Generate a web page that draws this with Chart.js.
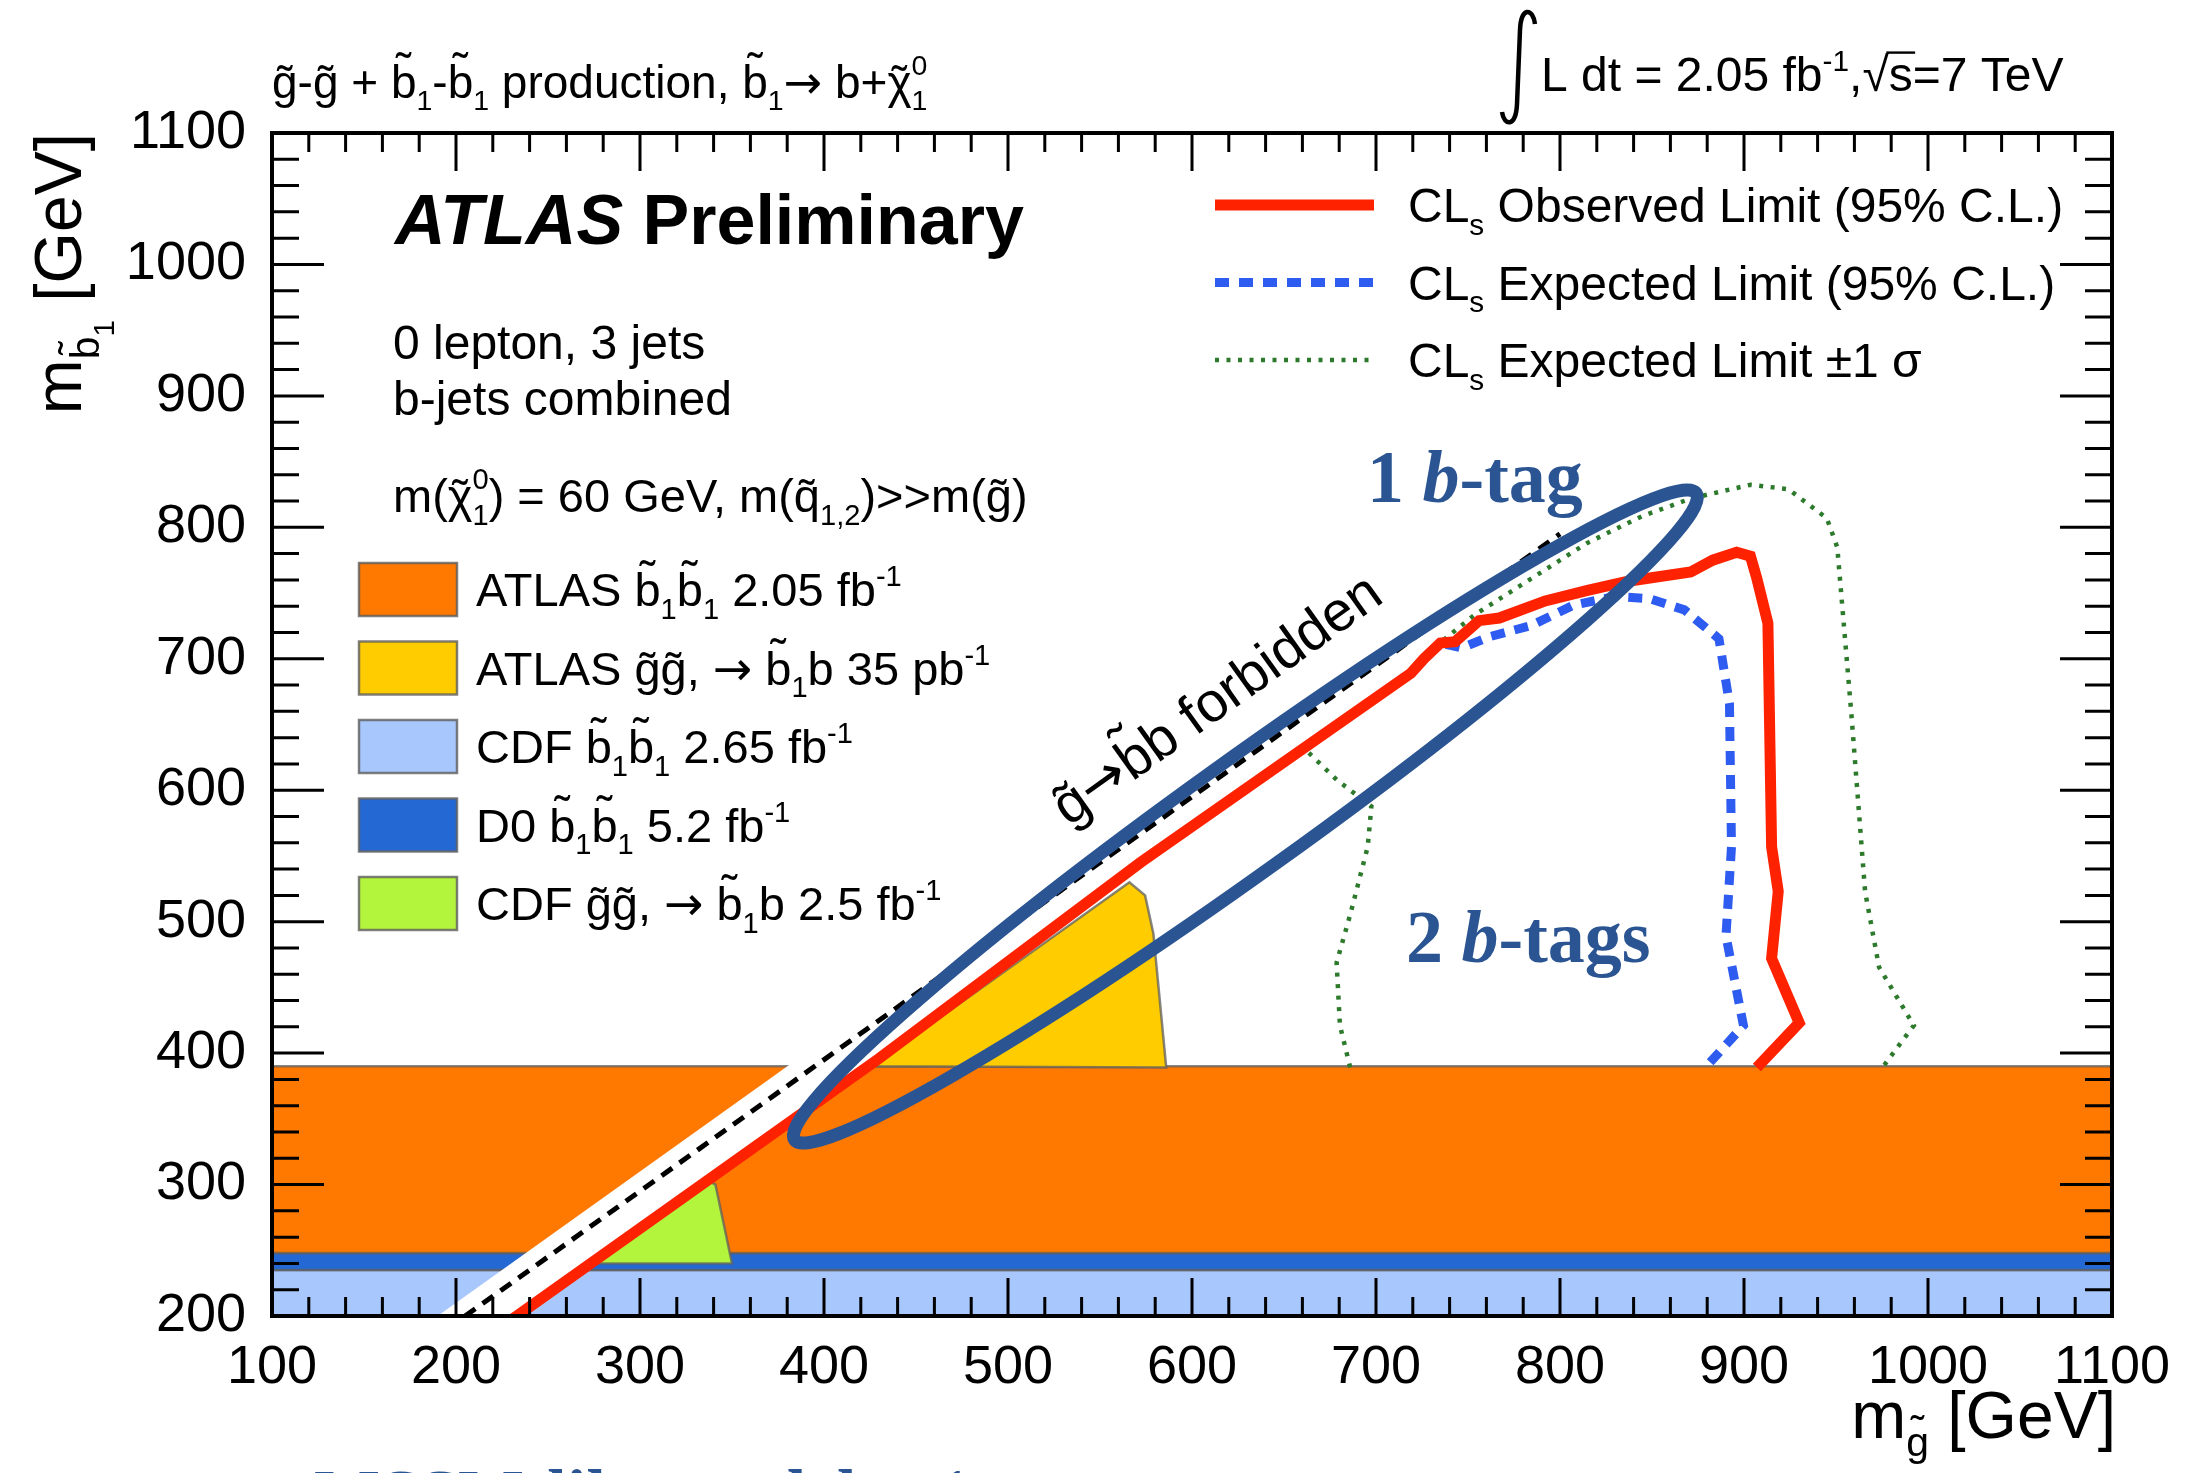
<!DOCTYPE html>
<html>
<head>
<meta charset="utf-8">
<script src="https://cdn.jsdelivr.net/npm/chart.js@4.4.1/dist/chart.umd.min.js"></script>
<style>
  html, body { margin: 0; padding: 0; background: #fff; }
  #wrap { width: 2190px; height: 1473px; }
</style>
</head>
<body>
<div id="wrap"><canvas id="myChart" width="2190" height="1473"></canvas></div>
<script>
// tick labels
const xTicks = [100, 200, 300, 400, 500, 600, 700, 800, 900, 1000, 1100];
const yTicks = [200, 300, 400, 500, 600, 700, 800, 900, 1000, 1100];

// previous limits: horizontal bands in m(sbottom) [GeV]
const cdfSbBand = [190, 235];
const d0SbBand = [235, 248];
const atlasSbBand = [248, 390];

// ATLAS gluino pair 35 pb-1
const atlasGgX = [426, 566, 574.5, 579, 586, 426];
const atlasGgY = [390, 530, 520, 491, 389, 390];

// CDF gluino pair 2.5 fb-1
const cdfGgX = [276, 337, 341, 350, 276];
const cdfGgY = [240, 303, 300, 240, 240];

// white strip along the kinematic edge
const stripX = [175, 382, 425, 218];
const stripY = [185, 392, 392, 185];

// g -> sbottom b kinematic limit
const kinX = [195, 800];
const kinY = [190, 795];

// CLs observed limit
const obsX = [226, 430, 572, 719, 726, 735, 743, 756, 767, 792, 815, 837, 871, 883, 896, 903.5, 907, 913, 915, 918.6, 915, 930, 907];
const obsY = [193, 396, 545, 689, 700, 712, 713, 729, 731, 744, 752, 759, 766, 775, 781, 778, 761, 727, 557, 523, 472, 423, 389];

// CLs expected limit
const expX = [719, 726, 735, 746.6, 761.7, 784.4, 807, 829.7, 848.7, 867.6, 886.4, 892.1, 893.2, 890.2, 899.7, 879];
const expY = [689, 701, 712, 708.3, 716.8, 725.3, 740.6, 747.4, 745.7, 737.2, 715.2, 665.8, 557, 489, 421, 389];

// expected +-1 sigma
const sigOuterX = [719, 724, 754, 784.4, 814.6, 844.8, 871.3, 903.5, 924.2, 945, 950.7, 958.3, 965.8, 973.4, 992.3, 975.2];
const sigOuterY = [690, 700, 733.8, 761, 788, 808.6, 822, 832.4, 829, 806.9, 784.8, 659, 523, 465.4, 421, 389];
const sigInnerX = [663.5, 678.6, 697.5, 695.5, 686.1, 678.6, 680.4, 686];
const sigInnerY = [628.4, 608, 587.7, 557, 506, 468.8, 421, 389];

// highlighted "1 b-tag" region (ends of the ellipse)
const ellipseTips = [[384, 334], [874, 826]];

const SANS = '"Liberation Sans", Arial, Helvetica, sans-serif';
const ARROW = '"DejaVu Sans", sans-serif';
const SERIF = '"Liberation Serif", "Times New Roman", serif';
const ANNOT = '#2b5592';

const orange = '#ff7800', yellow = '#ffcc00', lightBlue = '#a8c7fc', darkBlue = '#2468d4', lime = '#b3f53d';

const pts = (xs, ys) => xs.map((x, i) => ({x: x, y: ys[i]}));

const polygons = [
  {xs: [100, 1100, 1100, 100], ys: [cdfSbBand[0], cdfSbBand[0], cdfSbBand[1], cdfSbBand[1]], color: lightBlue, edge: true},
  {xs: [100, 1100, 1100, 100], ys: [d0SbBand[0], d0SbBand[0], d0SbBand[1], d0SbBand[1]], color: darkBlue, edge: true},
  {xs: [100, 1100, 1100, 100], ys: [atlasSbBand[0], atlasSbBand[0], atlasSbBand[1], atlasSbBand[1]], color: orange, edge: true},
  {xs: cdfGgX, ys: cdfGgY, color: lime, edge: true},
  {xs: atlasGgX, ys: atlasGgY, color: yellow, edge: true},
  {xs: stripX, ys: stripY, color: '#ffffff', edge: false}
];

function tilde(ctx, cx, y, font) {
  ctx.save();
  ctx.font = font;
  ctx.textAlign = 'center';
  ctx.fillText('\u02DC', cx, y);
  ctx.restore();
}

// small rich text: [text], [t,'_'] sub, [t,'^'] sup, [t,'_^',t2] sub+sup,
// [t,'~'] tilde, [t,'~~'] tilde on tall letter, [t,'_~'] sub with tilde,
// [t,'__'] lower sub, [t,'ol'] overline, [t,'ar'] arrow glyph
function drawRich(ctx, parts, x, y, size, align, weight) {
  const w0 = weight ? weight + ' ' : '';
  const font = s => w0 + s.toFixed(1) + 'px ' + SANS;
  const afont = s => w0 + s.toFixed(1) + 'px ' + ARROW;
  const ss = size * 0.62;
  const items = parts.map(p => {
    const [t, m, t2] = p;
    let w;
    if (m === '_' || m === '^' || m === '_~') { ctx.font = font(ss); w = ctx.measureText(t).width; }
    else if (m === '_^') { ctx.font = font(ss); w = Math.max(ctx.measureText(t).width, ctx.measureText(t2).width); }
    else if (m === '__') { ctx.font = font(size * 0.45); w = ctx.measureText(t).width; }
    else if (m === 'ar') { ctx.font = afont(size); w = ctx.measureText(t).width; }
    else { ctx.font = font(size); w = ctx.measureText(t).width; }
    return {t, m, t2, w};
  });
  const total = items.reduce((a, b) => a + b.w, 0);
  let cx = align === 'right' ? x - total : (align === 'center' ? x - total / 2 : x);
  ctx.textAlign = 'left';
  ctx.textBaseline = 'alphabetic';
  for (const it of items) {
    const {t, m, t2, w} = it;
    if (m === '_') { ctx.font = font(ss); ctx.fillText(t, cx, y + size * 0.27); }
    else if (m === '^') { ctx.font = font(ss); ctx.fillText(t, cx, y - size * 0.42); }
    else if (m === '_^') {
      ctx.font = font(ss);
      ctx.fillText(t, cx, y + size * 0.27);
      ctx.fillText(t2, cx, y - size * 0.5);
    } else if (m === '_~') {
      ctx.font = font(ss);
      ctx.fillText(t, cx, y + size * 0.27);
      tilde(ctx, cx + w / 2, y + size * 0.27 - ss * 0.3, font(ss));
    } else if (m === '__') {
      ctx.font = font(size * 0.45);
      ctx.fillText(t, cx, y + size * 0.5);
    } else if (m === 'ar') {
      ctx.font = afont(size);
      ctx.fillText(t, cx, y);
    } else {
      ctx.font = font(size);
      ctx.fillText(t, cx, y);
      if (m === '~') tilde(ctx, cx + w / 2, y, font(size));
      if (m === '~~') tilde(ctx, cx + w / 2, y - size * 0.28, font(size));
      if (m === 'ol') {
        ctx.save();
        ctx.lineWidth = size * 0.05;
        ctx.beginPath();
        ctx.moveTo(cx - size * 0.05, y - size * 0.8);
        ctx.lineTo(cx + w + size * 0.05, y - size * 0.8);
        ctx.stroke();
        ctx.restore();
      }
    }
    cx += w;
  }
  return total;
}

const sb1 = [['b', '~~'], ['1', '_']];
const gl = [['g', '~']];
const arr = [[' '], ['\u2192', 'ar'], [' ']];

const leftLegend = [
  {color: orange, parts: [['ATLAS '], ...sb1, ...sb1, [' 2.05 fb'], ['-1', '^']]},
  {color: yellow, parts: [['ATLAS '], ...gl, ...gl, [','], ...arr, ...sb1, ['b 35 pb'], ['-1', '^']]},
  {color: lightBlue, parts: [['CDF '], ...sb1, ...sb1, [' 2.65 fb'], ['-1', '^']]},
  {color: darkBlue, parts: [['D0 '], ...sb1, ...sb1, [' 5.2 fb'], ['-1', '^']]},
  {color: lime, parts: [['CDF '], ...gl, ...gl, [','], ...arr, ...sb1, ['b 2.5 fb'], ['-1', '^']]}
];

const rightLegend = [
  {ds: 4, parts: [['CL'], ['s', '_'], [' Observed Limit (95% C.L.)']]},
  {ds: 3, parts: [['CL'], ['s', '_'], [' Expected Limit (95% C.L.)']]},
  {ds: 1, parts: [['CL'], ['s', '_'], [' Expected Limit \u00B11 \u03C3']]}
];

const regionsPlugin = {
  id: 'regions',
  beforeDatasetsDraw(chart) {
    const {ctx, chartArea: a, scales: {x, y}} = chart;
    ctx.save();
    ctx.beginPath();
    ctx.rect(a.left, a.top, a.right - a.left, a.bottom - a.top);
    ctx.clip();
    for (const p of polygons) {
      ctx.beginPath();
      p.xs.forEach((v, i) => {
        const X = x.getPixelForValue(v), Y = y.getPixelForValue(p.ys[i]);
        if (i === 0) ctx.moveTo(X, Y); else ctx.lineTo(X, Y);
      });
      ctx.closePath();
      ctx.fillStyle = p.color;
      ctx.fill();
      if (p.edge) {
        ctx.strokeStyle = 'rgba(95,95,95,0.75)';
        ctx.lineWidth = 2.5;
        ctx.stroke();
      }
    }
    ctx.restore();
  }
};

const decorPlugin = {
  id: 'decor',
  afterDatasetsDraw(chart) {
    const {ctx, chartArea: a, scales: {x, y}} = chart;
    ctx.save();
    // frame
    ctx.strokeStyle = '#000';
    ctx.lineWidth = 4;
    ctx.strokeRect(a.left, a.top, a.right - a.left, a.bottom - a.top);
    // ticks on all four sides, pointing inward
    ctx.lineWidth = 3;
    ctx.beginPath();
    for (let v = x.min; v <= x.max + 0.1; v += 20) {
      const X = x.getPixelForValue(v);
      const len = xTicks.includes(v) ? 38 : 19;
      ctx.moveTo(X, a.bottom); ctx.lineTo(X, a.bottom - len);
      ctx.moveTo(X, a.top); ctx.lineTo(X, a.top + len);
    }
    for (let v = y.min; v <= y.max + 0.1; v += 20) {
      const Y = y.getPixelForValue(v);
      const len = yTicks.includes(v) ? 52 : 27;
      ctx.moveTo(a.left, Y); ctx.lineTo(a.left + len, Y);
      ctx.moveTo(a.right, Y); ctx.lineTo(a.right - len, Y);
    }
    ctx.stroke();

    // ellipse marking the 1 b-tag region
    const p1 = [x.getPixelForValue(ellipseTips[0][0]), y.getPixelForValue(ellipseTips[0][1])];
    const p2 = [x.getPixelForValue(ellipseTips[1][0]), y.getPixelForValue(ellipseTips[1][1])];
    const cx = (p1[0] + p2[0]) / 2, cy = (p1[1] + p2[1]) / 2;
    const semi = Math.hypot(p2[0] - p1[0], p2[1] - p1[1]) / 2;
    const rot = Math.atan2(p2[1] - p1[1], p2[0] - p1[0]);
    ctx.beginPath();
    ctx.ellipse(cx, cy, semi, 56, rot, 0, Math.PI * 2);
    ctx.strokeStyle = ANNOT;
    ctx.lineWidth = 13;
    ctx.stroke();

    // forbidden label along the diagonal
    const ang = Math.atan2(y.getPixelForValue(600) - y.getPixelForValue(500), x.getPixelForValue(600) - x.getPixelForValue(500));
    ctx.fillStyle = '#000';
    ctx.save();
    ctx.translate(x.getPixelForValue(533), y.getPixelForValue(572));
    ctx.rotate(ang);
    drawRich(ctx, [['g', '~'], ['\u2192', 'ar'], ['b', '~~'], ['b forbidden']], 0, 0, 56, 'left');
    ctx.restore();
    ctx.restore();
  },
  afterDraw(chart) {
    const {ctx} = chart;
    const ds = chart.data.datasets;
    ctx.save();
    ctx.fillStyle = '#000';
    ctx.strokeStyle = '#000';

    // header texts
    drawRich(ctx, [['g', '~'], ['-'], ['g', '~'], [' + '], ['b', '~~'], ['1', '_'], ['-'], ['b', '~~'], ['1', '_'],
      [' production, '], ['b', '~~'], ['1', '_'], ['\u2192', 'ar'], [' b+'], ['\u03C7', '~'], ['1', '_^', '0']], 272, 98, 46, 'left');

    // integral sign
    ctx.lineWidth = 4.5;
    ctx.beginPath();
    ctx.moveTo(1535, 24);
    ctx.bezierCurveTo(1533, 8, 1521, 6, 1520, 30);
    ctx.lineTo(1517, 104);
    ctx.bezierCurveTo(1516, 128, 1504, 126, 1502, 112);
    ctx.stroke();
    drawRich(ctx, [['L dt = 2.05 fb'], ['-1', '^'], [','], ['\u221A'], ['s', 'ol'], ['=7 TeV']], 1541, 91, 48, 'left');

    // ATLAS Preliminary
    ctx.font = 'italic bold 70px ' + SANS;
    ctx.textAlign = 'left';
    ctx.fillText('ATLAS', 395, 244);
    const wA = ctx.measureText('ATLAS ').width;
    ctx.font = 'bold 70px ' + SANS;
    ctx.fillText('Preliminary', 395 + wA, 244);

    drawRich(ctx, [['0 lepton, 3 jets']], 393, 359, 48, 'left');
    drawRich(ctx, [['b-jets combined']], 393, 415, 48, 'left');
    drawRich(ctx, [['m('], ['\u03C7', '~'], ['1', '_^', '0'], [') = 60 GeV, m('], ['q', '~'], ['1,2', '_'], [')>>m('], ['g', '~'], [')']], 393, 512, 47, 'left');

    // left legend (filled areas)
    leftLegend.forEach((it, i) => {
      const cyv = 589 + i * 78.5;
      ctx.fillStyle = it.color;
      ctx.fillRect(359, cyv - 26, 98, 53);
      ctx.strokeStyle = 'rgba(95,95,95,0.8)';
      ctx.lineWidth = 2.5;
      ctx.strokeRect(359, cyv - 26, 98, 53);
      ctx.fillStyle = '#000';
      drawRich(ctx, it.parts, 476, cyv + 17, 47, 'left');
    });

    // right legend (lines), styles taken from the datasets
    rightLegend.forEach((it, i) => {
      const cyv = 205 + i * 77.5;
      const d = ds[it.ds];
      ctx.save();
      ctx.strokeStyle = d.borderColor;
      ctx.lineWidth = d.borderWidth;
      ctx.setLineDash(d.borderDash || []);
      ctx.beginPath();
      ctx.moveTo(1215, cyv);
      ctx.lineTo(1374, cyv);
      ctx.stroke();
      ctx.restore();
      ctx.fillStyle = '#000';
      drawRich(ctx, it.parts, 1408, cyv + 17, 48, 'left');
    });

    // axis titles
    ctx.save();
    ctx.translate(81, 133);
    ctx.rotate(-Math.PI / 2);
    drawRich(ctx, [['m'], ['b', '_~'], ['1', '__'], [' [GeV]']], 0, 0, 66, 'right');
    ctx.restore();
    drawRich(ctx, [['m'], ['g', '_~'], [' [GeV]']], 2116, 1438, 66, 'right');

    // annotations
    ctx.fillStyle = ANNOT;
    const tag = (xx, yy, t) => {
      ctx.font = 'bold 74px ' + SERIF;
      ctx.fillText(t[0], xx, yy);
      let cx = xx + ctx.measureText(t[0]).width;
      ctx.font = 'italic bold 74px ' + SERIF;
      ctx.fillText('b', cx, yy);
      cx += ctx.measureText('b').width;
      ctx.font = 'bold 74px ' + SERIF;
      ctx.fillText(t[1], cx, yy);
    };
    tag(1367, 502, ['1 ', '-tag']);
    tag(1406, 962, ['2 ', '-tags']);
    ctx.font = 'bold 70px ' + SERIF;
    ctx.fillText('MSSM-like model', 314, 1518);
    ctx.font = 'bold 44px ' + SERIF;
    ctx.fillText('1', 945, 1500);
    ctx.restore();
  }
};

const lineDs = (label, xs, ys, color, width, dash, order) => ({
  label: label,
  data: pts(xs, ys),
  borderColor: color,
  borderWidth: width,
  borderDash: dash,
  pointRadius: 0,
  fill: false,
  tension: 0,
  order: order
});

const noPad = s => { s.paddingLeft = 0; s.paddingRight = 0; s.paddingTop = 0; s.paddingBottom = 0; };

const ctx = document.getElementById('myChart').getContext('2d');
new Chart(ctx, {
  type: 'line',
  data: {
    datasets: [
      lineDs('kinematic limit', kinX, kinY, '#000000', 5, [13, 9], 5),
      lineDs('Expected +-1 sigma', sigOuterX, sigOuterY, '#2d7a2d', 4.5, [4, 7.5], 4),
      lineDs('Expected -1 sigma', sigInnerX, sigInnerY, '#2d7a2d', 4.5, [4, 7.5], 3),
      lineDs('Expected limit', expX, expY, '#2f5cf0', 9, [14, 10], 2),
      lineDs('Observed limit', obsX, obsY, '#ff2200', 11, [], 1)
    ]
  },
  options: {
    responsive: false,
    animation: false,
    devicePixelRatio: 1,
    layout: {padding: {left: 0, right: 78, top: 133, bottom: 0}},
    plugins: {legend: {display: false}, tooltip: {enabled: false}},
    scales: {
      x: {
        type: 'linear', min: 100, max: 1100,
        afterBuildTicks: s => { s.ticks = xTicks.map(v => ({value: v})); },
        afterFit: s => { s.height = 157; noPad(s); },
        ticks: {font: {size: 54, family: SANS}, color: '#000', padding: 12, maxRotation: 0, autoSkip: false,
          callback: v => String(v)},
        grid: {display: false},
        border: {display: false}
      },
      y: {
        type: 'linear', min: 200, max: 1100,
        afterBuildTicks: s => { s.ticks = yTicks.map(v => ({value: v})); },
        afterFit: s => { s.width = 272; noPad(s); },
        ticks: {font: {size: 54, family: SANS}, color: '#000', padding: 18, autoSkip: false,
          callback: v => String(v)},
        grid: {display: false},
        border: {display: false}
      }
    }
  },
  plugins: [regionsPlugin, decorPlugin]
});
</script>
</body>
</html>
